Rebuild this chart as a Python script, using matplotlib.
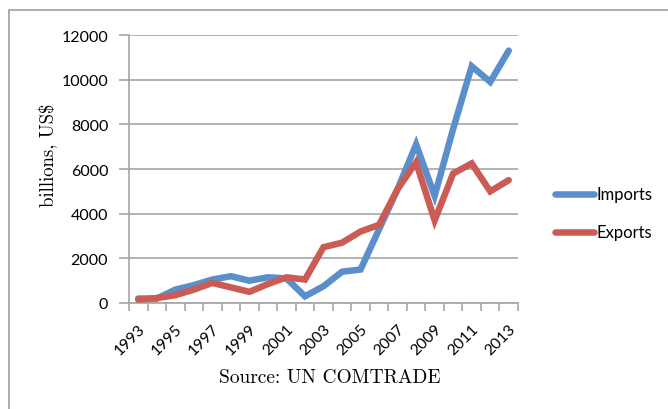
import matplotlib
matplotlib.use("Agg")
import matplotlib.pyplot as plt
import matplotlib.transforms as mtransforms
from matplotlib.patches import Rectangle
from matplotlib.lines import Line2D

years = list(range(1993, 2014))
imports = [200, 200, 600, 800, 1050, 1200, 1000, 1150, 1100, 300, 750,
           1400, 1500, 3300, 5100, 7100, 4800, 7800, 10600, 9900, 11300]
exports = [150, 220, 350, 600, 900, 700, 500, 850, 1150, 1050, 2500,
           2700, 3200, 3500, 5100, 6300, 3700, 5800, 6250, 5000, 5500]
yticks = [0, 2000, 4000, 6000, 8000, 10000, 12000]

blue = "#5A8FCB"
red = "#CB5C55"
grid_gray = "#A6A6A6"
sans = "Lato"
serif = "cmr10"

W, H = 668, 410
fig = plt.figure(figsize=(W / 100, H / 100), dpi=100)
fig.patch.set_facecolor("white")

# chart frame (open towards the right/bottom edge)
fig.add_artist(Rectangle((9 / W, -0.1), 1.2, 1 - 11 / H + 0.1,
                         transform=fig.transFigure, fill=False,
                         edgecolor="#A0A0A0", linewidth=1.2))

ax = fig.add_axes([129 / W, 1 - 304 / H, (518 - 129) / W, (304 - 36) / H])
x = list(range(len(years)))
ax.plot(x, imports, color=blue, linewidth=4.7, solid_capstyle="round",
        solid_joinstyle="miter", zorder=3)
ax.plot(x, exports, color=red, linewidth=4.7, solid_capstyle="round",
        solid_joinstyle="miter", zorder=4)

ax.set_xlim(-0.5, len(years) - 0.5)
ax.set_ylim(0, 12000)
ax.set_yticks(yticks)
ax.set_yticklabels([str(v) for v in yticks], fontfamily=sans, fontsize=11.5)
ax.yaxis.grid(True, color=grid_gray, linewidth=1.2)
ax.set_axisbelow(True)

# category axis: tick marks between categories, labels every other year
ax.set_xticks([i - 0.5 for i in range(len(years) + 1)])
ax.set_xticklabels([])
ax.set_xticks(x[::2], minor=True)
ax.set_xticklabels([str(y) for y in years[::2]], minor=True,
                   rotation=45, ha="right", va="top", rotation_mode="anchor",
                   fontfamily=sans, fontsize=11.3)
shift = mtransforms.ScaledTranslation(4 / 100, 0, fig.dpi_scale_trans)
for lab in ax.get_xticklabels(minor=True):
    lab.set_transform(lab.get_transform() + shift)
ax.tick_params(axis="x", which="minor", length=0, pad=13)
ax.tick_params(axis="x", which="major", length=6, color=grid_gray, width=1.2)
ax.tick_params(axis="y", length=7, color=grid_gray, width=1.2, pad=8)

for s in ("top", "right"):
    ax.spines[s].set_visible(False)
for s in ("left", "bottom"):
    ax.spines[s].set_color(grid_gray)
    ax.spines[s].set_linewidth(1.2)

fig.text(48 / W, 1 - 155 / H, "billions, US$", rotation=90,
         ha="center", va="center", fontfamily=serif, fontsize=13.5)
fig.text(330 / W, 1 - 378 / H, "Source: UN COMTRADE",
         ha="center", va="center", fontfamily=serif, fontsize=14)

# legend
for label, col, yy in (("Imports", blue, 195), ("Exports", red, 233)):
    fig.add_artist(Line2D([555 / W, 594 / W], [1 - yy / H, 1 - yy / H],
                          transform=fig.transFigure, color=col,
                          linewidth=4.7, solid_capstyle="round"))
    fig.text(597 / W, 1 - yy / H, label, ha="left", va="center",
             fontfamily=sans, fontsize=12)

fig.savefig("out.png", dpi=100)
